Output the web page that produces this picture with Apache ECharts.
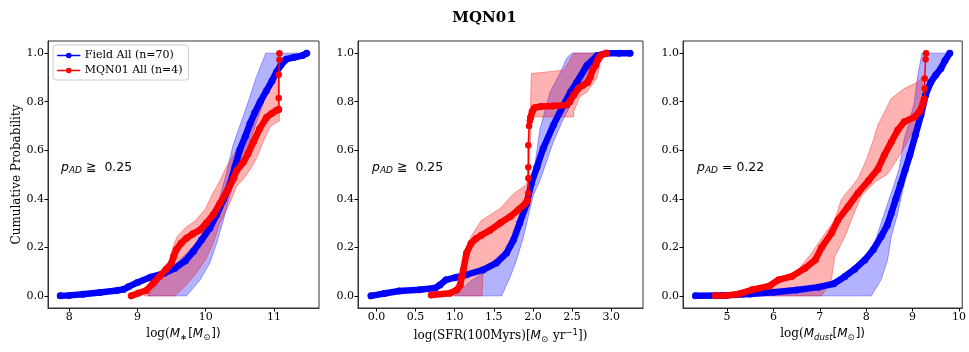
<!DOCTYPE html>
<html><head><meta charset="utf-8">
<script src="https://cdn.jsdelivr.net/npm/echarts@6/dist/echarts.min.js"></script>
<style>html,body{margin:0;padding:0;background:#fff}#c{width:969px;height:352px}</style>
</head><body><div id="c"></div>
<script>
// ---------- tick labels ----------
const yTicks = [0, 0.2, 0.4, 0.6, 0.8, 1.0];
const massTicks = [8, 9, 10, 11];
const sfrTicks = [0, 0.5, 1.0, 1.5, 2.0, 2.5, 3.0];
const dustTicks = [5, 6, 7, 8, 9, 10];

const seriesNames = ['Field All (n=70)', 'MQN01 All (n=4)'];
const pLabels = ['≧  0.25', '≧  0.25', '= 0.22'];

// ---------- panel 1: stellar mass ----------
const fieldMass = [[7.87,0],[8.0,0.002],[8.2,0.007],[8.45,0.014],[8.7,0.022],[8.8,0.027],[8.87,0.038],[9.0,0.055],[9.19,0.077],[9.39,0.093],[9.55,0.114],[9.7,0.144],[9.82,0.183],[9.94,0.231],[10.06,0.279],[10.16,0.334],[10.26,0.396],[10.36,0.464],[10.43,0.533],[10.5,0.602],[10.58,0.657],[10.65,0.71],[10.72,0.755],[10.8,0.8],[10.89,0.845],[10.97,0.885],[11.04,0.923],[11.1,0.95],[11.18,0.975],[11.3,0.983],[11.42,0.99],[11.48,1.0]];
const mqnMass = [[8.91,0],[9.01,0.011],[9.13,0.022],[9.23,0.052],[9.33,0.082],[9.42,0.11],[9.5,0.135],[9.53,0.162],[9.57,0.19],[9.64,0.217],[9.72,0.238],[9.81,0.255],[9.92,0.272],[10.01,0.3],[10.11,0.334],[10.21,0.382],[10.31,0.43],[10.41,0.485],[10.45,0.515],[10.55,0.55],[10.62,0.585],[10.7,0.635],[10.79,0.688],[10.89,0.735],[10.97,0.752],[11.04,0.765],[11.07,0.768]];
const mqnMassJump = [[11.07,0.768],[11.07,0.815],[11.07,0.911],[11.08,0.973],[11.08,1.0]];
const fieldMassBandL = [[9.15,0],[9.38,0.08],[9.72,0.176],[10.0,0.26],[10.1,0.33],[10.2,0.4],[10.3,0.5],[10.4,0.62],[10.5,0.7],[10.6,0.78],[10.74,0.9],[10.88,1.0]];
const fieldMassBandR = [[9.72,0],[9.92,0.066],[10.06,0.135],[10.16,0.217],[10.26,0.313],[10.35,0.41],[10.45,0.49],[10.55,0.56],[10.7,0.68],[10.85,0.8],[10.95,0.87],[11.05,0.93],[11.1,0.96],[11.2,0.985],[11.48,1.0]];
const mqnMassBandL = [[9.1,0],[9.3,0.07],[9.45,0.13],[9.52,0.2],[9.58,0.244],[9.7,0.28],[9.85,0.31],[10.0,0.36],[10.1,0.42],[10.2,0.47],[10.3,0.53],[10.45,0.6],[10.55,0.66],[10.65,0.73],[10.75,0.8],[10.9,0.85],[11.0,0.87],[11.08,0.92]];
const mqnMassBandR = [[9.55,0],[9.7,0.04],[9.85,0.09],[10.0,0.15],[10.11,0.217],[10.21,0.3],[10.35,0.38],[10.45,0.45],[10.55,0.48],[10.65,0.52],[10.75,0.57],[10.85,0.64],[10.95,0.7],[11.08,0.72],[11.08,0.92]];

// ---------- panel 2: SFR ----------
const fieldSfr = [[-0.07,0],[0.1,0.01],[0.29,0.02],[0.55,0.025],[0.75,0.032],[0.81,0.045],[0.89,0.066],[1.0,0.075],[1.15,0.087],[1.36,0.107],[1.53,0.135],[1.66,0.176],[1.75,0.23],[1.83,0.3],[1.92,0.38],[1.98,0.464],[2.05,0.53],[2.13,0.607],[2.26,0.703],[2.39,0.786],[2.48,0.84],[2.56,0.88],[2.69,0.95],[2.82,0.99],[2.94,1.0],[3.1,1.0],[3.24,1.0]];
const mqnSfrLow = [[0.7,0.004],[0.94,0.011],[1.03,0.025],[1.07,0.045],[1.09,0.08],[1.11,0.107],[1.15,0.176],[1.21,0.217],[1.27,0.235],[1.34,0.25],[1.45,0.27],[1.58,0.3],[1.71,0.327],[1.81,0.354],[1.9,0.38],[1.93,0.395]];
const mqnSfrJump = [[1.93,0.395],[1.94,0.423],[1.94,0.485],[1.94,0.53],[1.94,0.62],[1.95,0.7],[1.96,0.72],[1.97,0.735]];
const mqnSfrHigh = [[1.97,0.735],[1.99,0.76],[2.02,0.775],[2.1,0.78],[2.25,0.782],[2.43,0.786],[2.47,0.8],[2.52,0.827],[2.58,0.855],[2.64,0.868],[2.7,0.88],[2.73,0.9],[2.76,0.93],[2.8,0.95],[2.83,0.975],[2.86,0.99],[2.94,1.0]];
const fieldSfrBandL = [[1.0,0],[1.2,0.06],[1.4,0.1],[1.6,0.14],[1.75,0.2],[1.85,0.3],[1.92,0.4],[2.0,0.483],[2.09,0.69],[2.22,0.84],[2.35,0.92],[2.43,0.98],[2.5,1.0]];
const fieldSfrBandR = [[1.6,0],[1.71,0.08],[1.79,0.148],[1.88,0.244],[1.94,0.327],[2.0,0.41],[2.1,0.485],[2.26,0.634],[2.39,0.73],[2.52,0.81],[2.69,0.895],[2.82,0.964],[2.86,1.0]];
const mqnSfrBandL = [[0.98,0],[1.08,0.04],[1.12,0.1],[1.17,0.2],[1.2,0.24],[1.34,0.31],[1.58,0.36],[1.75,0.42],[1.92,0.46],[1.94,0.55],[1.96,0.7],[1.98,0.916],[2.39,0.93],[2.45,0.96],[2.52,1.0],[2.94,1.0]];
const mqnSfrBandR = [[1.35,0],[1.36,0.09],[1.62,0.19],[1.82,0.27],[1.93,0.37],[1.95,0.41],[1.96,0.6],[1.98,0.737],[2.52,0.737],[2.52,0.76],[2.6,0.82],[2.69,0.84],[2.82,0.9],[2.86,0.96],[2.94,1.0]];

// ---------- panel 3: dust mass ----------
const fieldDust = [[4.32,0],[4.9,0.001],[5.5,0.008],[6.0,0.015],[6.5,0.024],[6.97,0.036],[7.3,0.05],[7.54,0.08],[7.75,0.11],[7.97,0.148],[8.15,0.19],[8.32,0.244],[8.45,0.29],[8.54,0.34],[8.64,0.4],[8.74,0.46],[8.84,0.52],[8.94,0.58],[9.06,0.662],[9.18,0.745],[9.28,0.827],[9.39,0.88],[9.5,0.91],[9.61,0.937],[9.7,0.97],[9.8,1.0]];
const mqnDust = [[4.75,0],[5.0,0.002],[5.25,0.008],[5.54,0.025],[5.9,0.04],[6.11,0.066],[6.39,0.08],[6.68,0.114],[6.9,0.148],[7.04,0.2],[7.25,0.258],[7.39,0.313],[7.61,0.368],[7.82,0.423],[8.05,0.475],[8.25,0.522],[8.39,0.58],[8.54,0.634],[8.68,0.683],[8.82,0.717],[9.04,0.737],[9.15,0.76],[9.22,0.79],[9.25,0.81]];
const mqnDustJump = [[9.25,0.81],[9.26,0.854],[9.26,0.895],[9.28,0.975],[9.29,1.0]];
const fieldDustBandL = [[4.32,0],[6.5,0.02],[7.0,0.035],[7.32,0.066],[7.82,0.12],[8.18,0.217],[8.39,0.34],[8.61,0.464],[8.71,0.524],[8.82,0.648],[8.93,0.717],[9.04,0.8],[9.1,0.895],[9.18,0.978],[9.2,1.0]];
const fieldDustBandR = [[8.11,0],[8.32,0.066],[8.46,0.148],[8.54,0.244],[8.68,0.34],[8.79,0.437],[8.9,0.52],[9.0,0.58],[9.1,0.662],[9.2,0.745],[9.28,0.827],[9.39,0.88],[9.61,0.937],[9.8,1.0]];
const mqnDustBandL = [[4.75,0],[5.5,0.02],[6.0,0.05],[6.5,0.1],[6.82,0.176],[7.05,0.24],[7.32,0.313],[7.46,0.396],[7.68,0.45],[7.82,0.483],[8.0,0.56],[8.15,0.64],[8.25,0.703],[8.54,0.813],[8.82,0.854],[9.1,0.88],[9.2,0.9]];
const mqnDustBandR = [[7.04,0],[7.25,0.066],[7.32,0.16],[7.54,0.244],[7.68,0.313],[7.89,0.41],[8.2,0.47],[8.45,0.5],[8.68,0.566],[8.89,0.634],[9.04,0.69],[9.18,0.745],[9.25,0.8],[9.2,0.9]];

// ---------- layout ----------
const BLUE = '#0000ff', RED = '#ff0000';
const grids = [
  {left: 48, top: 41, width: 271, height: 267},
  {left: 358, top: 41, width: 285, height: 267},
  {left: 683, top: 41, width: 282, height: 267}
];
const xRanges = [[7.69, 11.66], [-0.236, 3.406], [4.05, 10.07]];
const xTickSets = [massTicks, sfrTicks, dustTicks];
const xFmt = [v => String(v), v => v.toFixed(1), v => String(v)];
const xNames = [
  '{n|log(}{i|M}{s|∗}{m|[}{i|M}{s|⊙}{m|])}',
  '{n|log(SFR(100Myrs)[}{i|M}{s|⊙}{n| yr}{p|−1}{n|])}',
  '{n|log(}{i|M}{si|dust}{m|[}{i|M}{s|⊙}{m|])}'
];
const nameRich = {
  n: {fontFamily: 'DejaVu Serif', fontSize: 12, color: '#000', lineHeight: 16},
  m: {fontFamily: 'DejaVu Sans', fontSize: 12, color: '#000', lineHeight: 16},
  i: {fontFamily: 'DejaVu Sans', fontStyle: 'italic', fontSize: 12, color: '#000', lineHeight: 16},
  s: {fontFamily: 'DejaVu Sans', fontSize: 8.5, color: '#000', lineHeight: 16, verticalAlign: 'bottom', padding: [0,1,0,0]},
  si: {fontFamily: 'DejaVu Sans', fontStyle: 'italic', fontSize: 8.5, color: '#000', lineHeight: 16, verticalAlign: 'bottom'},
  p: {fontFamily: 'DejaVu Sans', fontSize: 8.5, color: '#000', lineHeight: 16, verticalAlign: 'top'}
};

const xAxes = grids.map((g, i) => ({
  type: 'value', gridIndex: i, min: xRanges[i][0], max: xRanges[i][1],
  splitLine: {show: false},
  axisLine: {show: true, onZero: false, lineStyle: {color: '#333', width: 1}},
  axisTick: {show: true, customValues: xTickSets[i], length: 3.5, lineStyle: {color: '#000'}},
  axisLabel: {customValues: xTickSets[i], formatter: xFmt[i], color: '#000', fontFamily: 'DejaVu Serif', fontSize: 11, margin: 4},
  name: xNames[i], nameLocation: 'middle', nameGap: 16,
  nameTextStyle: {rich: nameRich, verticalAlign: 'top'}
}));
const yAxes = grids.map((g, i) => ({
  type: 'value', gridIndex: i, min: -0.05, max: 1.05,
  splitLine: {show: false},
  axisLine: {show: true, onZero: false, lineStyle: {color: '#333', width: 1}},
  axisTick: {show: true, customValues: yTicks, length: 3.5, lineStyle: {color: '#000'}},
  axisLabel: {customValues: yTicks, formatter: v => v.toFixed(1), color: '#000', fontFamily: 'DejaVu Serif', fontSize: 11, margin: 4},
  name: i === 0 ? 'Cumulative Probability' : '', nameLocation: 'middle', nameGap: 25,
  nameTextStyle: {fontFamily: 'DejaVu Serif', fontSize: 12, color: '#000'}
}));

function band(i, left, right, rgb) {
  const poly = left.concat(right.slice().reverse());
  return {
    type: 'custom', xAxisIndex: i, yAxisIndex: i, silent: true, z: 1,
    data: [poly[0]],
    renderItem: (params, api) => ({
      type: 'polygon',
      shape: {points: poly.map(p => api.coord(p))},
      style: {fill: 'rgba(' + rgb + ',0.3)', stroke: 'rgba(' + rgb + ',0.35)', lineWidth: 1}
    })
  };
}
function thick(i, data, name, color, z) {
  return {
    type: 'line', name, xAxisIndex: i, yAxisIndex: i, data, z,
    color, symbol: 'circle', symbolSize: 7, showSymbol: true, showAllSymbol: true,
    itemStyle: {color}, lineStyle: {color, width: 6.5, cap: 'round', join: 'round'},
    emphasis: {disabled: true}, silent: true
  };
}
function thin(i, data, name, color, z) {
  return {
    type: 'line', name, xAxisIndex: i, yAxisIndex: i, data, z,
    color, symbol: 'circle', symbolSize: 6.5, showSymbol: true, showAllSymbol: true,
    itemStyle: {color}, lineStyle: {color, width: 1.5},
    emphasis: {disabled: true}, silent: true
  };
}

const series = [
  band(0, fieldMassBandL, fieldMassBandR, '0,0,255'),
  band(0, mqnMassBandL, mqnMassBandR, '255,0,0'),
  thick(0, fieldMass, seriesNames[0], BLUE, 3),
  thick(0, mqnMass, seriesNames[1], RED, 4),
  thin(0, mqnMassJump, seriesNames[1], RED, 4),

  band(1, fieldSfrBandL, fieldSfrBandR, '0,0,255'),
  band(1, mqnSfrBandL, mqnSfrBandR, '255,0,0'),
  thick(1, fieldSfr, seriesNames[0], BLUE, 3),
  thick(1, mqnSfrLow, seriesNames[1], RED, 4),
  thin(1, mqnSfrJump, seriesNames[1], RED, 4),
  thick(1, mqnSfrHigh, seriesNames[1], RED, 4),

  band(2, fieldDustBandL, fieldDustBandR, '0,0,255'),
  band(2, mqnDustBandL, mqnDustBandR, '255,0,0'),
  thick(2, fieldDust, seriesNames[0], BLUE, 3),
  thick(2, mqnDust, seriesNames[1], RED, 4),
  thin(2, mqnDustJump, seriesNames[1], RED, 4)
];

const pRich = {
  i: {fontFamily: 'DejaVu Sans', fontStyle: 'italic', fontSize: 12.5, fill: '#000', lineHeight: 16},
  s: {fontFamily: 'DejaVu Sans', fontStyle: 'italic', fontSize: 9, fill: '#000', lineHeight: 16, verticalAlign: 'bottom'},
  n: {fontFamily: 'DejaVu Sans', fontSize: 12.5, fill: '#000', lineHeight: 16}
};
const pX = [61, 372, 697];
const graphic = pX.map((x, k) => ({
  type: 'text', left: x, top: 161, z: 10,
  style: {text: '{i|p}{s|AD}{n| ' + pLabels[k] + '}', rich: pRich, fill: '#000'}
}));

const chart = echarts.init(document.getElementById('c'), null, {renderer: 'canvas'});
chart.setOption({
  animation: false,
  backgroundColor: '#fff',
  title: {text: 'MQN01', left: 'center', top: 6,
    textStyle: {fontFamily: 'DejaVu Serif', fontWeight: 'bold', fontSize: 15, color: '#000'}},
  legend: {
    data: seriesNames, left: 53, top: 45, orient: 'vertical', itemGap: 4,
    itemWidth: 22, itemHeight: 7, backgroundColor: '#fff', borderColor: '#ccc', borderWidth: 1,
    borderRadius: 3, padding: [5, 6, 4, 4],
    lineStyle: {width: 1.5},
    textStyle: {fontFamily: 'DejaVu Serif', fontSize: 11, color: '#000'}
  },
  grid: grids.map(g => Object.assign({show: true, borderColor: '#333', borderWidth: 1, backgroundColor: 'transparent'}, g)),
  xAxis: xAxes,
  yAxis: yAxes,
  series,
  graphic
});
</script></body></html>
